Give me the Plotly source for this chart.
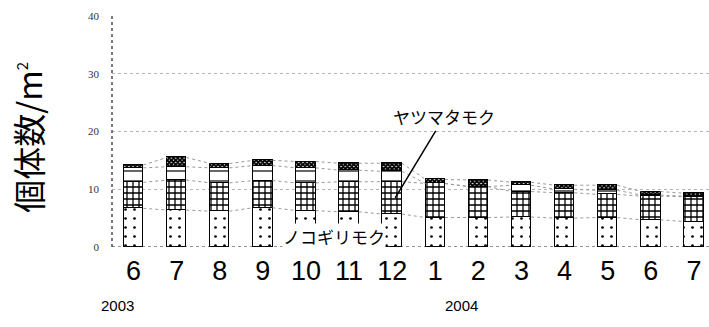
import numpy as np
import plotly.graph_objects as go

months = ["6", "7", "8", "9", "10", "11", "12", "1", "2", "3", "4", "5", "6", "7"]
years = ["2003", "2004"]
noko = [6.7, 6.4, 6.2, 6.8, 6.3, 6.1, 5.7, 5.1, 5.1, 5.2, 5.0, 5.1, 4.7, 4.4]
yatsu = [4.5, 5.2, 4.9, 4.7, 4.8, 5.2, 5.6, 5.9, 5.35, 4.4, 4.4, 4.0, 4.1, 4.3]
other1 = [2.5, 2.3, 2.6, 2.6, 2.6, 2.0, 1.8, 0.0, 0.0, 1.1, 0.6, 0.7, 0.2, 0.1]
other2 = [0.5, 1.6, 0.75, 0.9, 1.1, 1.2, 1.4, 0.7, 1.15, 0.5, 0.7, 0.9, 0.6, 0.5]
yticks = [0, 10, 20, 30, 40]

x = np.arange(len(months))
BW = 0.45

series = [
    ("ノコギリモク", noko, dict(shape=".", size=9, solidity=0.07)),
    ("ヤツマタモク", yatsu, dict(shape="+", size=6, solidity=0.38)),
    ("その他", other1, dict(shape="-", size=10, solidity=0.12)),
    ("その他2", other2, dict(shape="x", size=3, solidity=0.85)),
]

fig = go.Figure()
for name, vals, pat in series:
    fig.add_trace(go.Bar(
        x=x, y=vals, name=name, width=BW,
        marker=dict(color="white", line=dict(color="black", width=1.3),
                    pattern=dict(fgcolor="black", bgcolor="white", fgopacity=1, **pat)),
        showlegend=False, hoverinfo="skip"))

# series lines (dotted) connecting segment tops between neighbouring bars
cum = np.cumsum(np.array([s[1] for s in series]), axis=0)
for level in cum:
    xs, ys = [], []
    for i in range(len(months) - 1):
        xs += [x[i] + BW / 2, x[i + 1] - BW / 2, None]
        ys += [level[i], level[i + 1], None]
    fig.add_trace(go.Scatter(x=xs, y=ys, mode="lines",
                             line=dict(color="#999999", width=1, dash="dot"),
                             showlegend=False, hoverinfo="skip"))

fig.update_layout(
    width=709, height=327,
    margin=dict(l=112, r=0, t=16, b=80),
    paper_bgcolor="white", plot_bgcolor="white",
    barmode="stack", bargap=0,
    xaxis=dict(range=[-0.5, 13.35], tickmode="array", tickvals=x, ticktext=months,
               tickfont=dict(family="Liberation Sans Narrow, Arial Narrow, Liberation Sans", size=27, color="black"),
               showgrid=False, zeroline=False, showline=False, ticks="",
               ticklabelstandoff=5),
    yaxis=dict(range=[0, 40], tickvals=yticks,
               tickfont=dict(family="Liberation Serif, DejaVu Serif", size=11, color="#333"),
               showgrid=True, griddash="dot", gridcolor="#b5b5b5", gridwidth=1,
               zeroline=False, showline=False, ticks="", ticklabelstandoff=12),
    font=dict(family="Noto Sans CJK JP"),
)

# dashed axis lines
fig.add_shape(type="line", xref="paper", yref="y", x0=0, x1=0, y0=0, y1=40,
              line=dict(color="#222", width=1.2, dash="dot"))
fig.add_shape(type="line", xref="paper", yref="y", x0=0, x1=1, y0=0, y1=0,
              line=dict(color="#222", width=1.2, dash="dot"))

# y title
fig.add_annotation(text="個体数/m<sup><span style='font-size:15px'>2</span></sup>",
                   xref="paper", yref="paper", xanchor="center", yanchor="middle",
                   x=-0.14, y=0.475, textangle=-90, showarrow=False,
                   font=dict(family="Noto Sans CJK JP", size=33, color="black"))

# year labels
for yr, xp in zip(years, [0.01, 0.585]):
    fig.add_annotation(text=yr, xref="paper", yref="paper", x=xp, y=-0.252,
                       xanchor="center", yanchor="middle", showarrow=False,
                       font=dict(family="Liberation Sans Narrow, Liberation Sans", size=15, color="black"))

# series labels
fig.add_annotation(text="ヤツマタモク", x=6.07, y=8.5, ax=49, ay=-81,
                   showarrow=True, arrowhead=0, arrowwidth=1.5, arrowcolor="black",
                   font=dict(family="Noto Sans CJK JP", size=17, color="black"))
fig.add_annotation(text="ノコギリモク", x=4.65, y=1.9, showarrow=False,
                   bgcolor="white", borderpad=0,
                   font=dict(family="Noto Sans CJK JP", size=17, color="black"))

fig.write_html("out.html", config={"displayModeBar": False},
               post_script="document.body.style.margin='0';")
